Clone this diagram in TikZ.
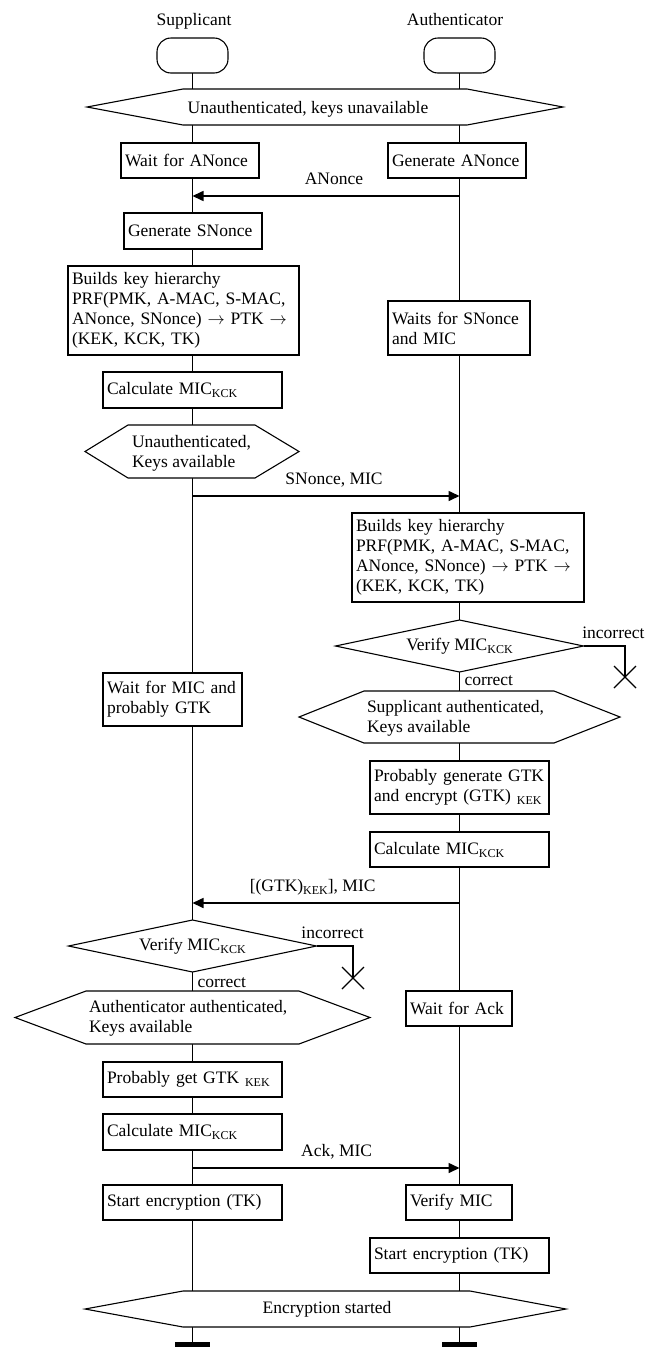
\documentclass[tikz,border=0pt]{standalone}
\usepackage{fontspec}
\setmainfont{Liberation Serif}
\usetikzlibrary{arrows.meta,shapes.geometric,shapes.misc}
\newcommand{\ksub}[1]{\raisebox{-3pt}{\fontsize{12}{13}\selectfont #1}}

\begin{document}
\begin{tikzpicture}[x=1pt,y=-1pt,
    every node/.style={font=\fontsize{17.5}{20}\selectfont, outer sep=0pt},
    line/.style={line width=1.1pt},
    msg/.style={line width=1.6pt, -{Triangle[length=11pt,width=10pt]}},
    box/.style={draw, line width=1.1pt, fill=white, anchor=north west, align=left, inner xsep=4pt, inner ysep=0pt},
    startbox/.style={draw, line width=1.1pt, rounded corners=14pt, minimum width=71, minimum height=35, inner sep=0pt},
    endbar/.style={fill=black, minimum width=35, minimum height=9, inner sep=0pt},
    hexa/.style={draw, line width=1.1pt, fill=white},
    decision/.style={diamond, draw, line width=1.1pt, fill=white, aspect=4.8, minimum width=248, minimum height=52, inner sep=0pt},
    halt/.style={cross out, draw, line width=1.1pt, minimum size=22, inner sep=0pt},
    lbl/.style={inner sep=1pt, text height=12pt, text depth=4pt},
    htxt/.style={anchor=west, align=left, inner sep=0pt}]

    \useasboundingbox (0,0) rectangle (648,1347);

	\node[lbl] (supName) at (194,21) {Supplicant};
	\node[lbl] (autName) at (455,21) {Authenticator};
	\node[startbox] (supStart) at (192.5,55.5) {};
	\node[startbox] (autStart) at (459.5,55.5) {};
	\node[endbar] (supEnd) at (192.5,1346) {};
	\node[endbar] (autEnd) at (459.5,1346) {};
	\draw[line] (supStart.south) -- (supEnd.north);
	\draw[line] (autStart.south) -- (autEnd.north);

	% states
	\foreach \xl/\xa/\xb/\xr/\yt/\yb in {87/183/467/563/89/125, 85/128/255/299/425/478,
	    299/364/554/620/691/743, 15/86/299/370/991/1044, 85/183/470/566/1291/1327}
	\draw[hexa] (\xl,{(\yt+\yb)/2}) -- (\xa,\yt) -- (\xb,\yt) -- (\xr,{(\yt+\yb)/2})
	    -- (\xb,\yb) -- (\xa,\yb) -- cycle;
	\node[lbl] (stNoKeys) at (308,109) {Unauthenticated, keys unavailable};
	\node[htxt] (stSupKeys) at (132,453.5) {Unauthenticated,\\Keys available};
	\node[htxt] (stSupAuth) at (367,718.5) {Supplicant authenticated,\\Keys available};
	\node[htxt] (stAutAuth) at (89,1018.5) {Authenticator authenticated,\\Keys available};
	\node[lbl] (stEnc) at (327,1309) {Encryption started};

	% supplicant
	\node[box, text width=130, minimum height=35] (supWait) at (121,143) {Wait for ANonce};
	\node[box, text width=130, minimum height=36] (supGen) at (124,213) {Generate SNonce};
	\node[box, text width=223, minimum height=89] (supKeys) at (68,266)
	    {Builds key hierarchy\\PRF(PMK, A-MAC, S-MAC,\\ANonce, SNonce) $\rightarrow$ PTK $\rightarrow$\\(KEK, KCK, TK)};
	\node[box, text width=171, minimum height=36] (supMic) at (103,372) {Calculate MIC\ksub{KCK}};
	\node[box, text width=131, minimum height=53] (supWaitMic) at (103,673) {Wait for MIC and\\probably GTK};
	\node[decision] (verS) at (192.5,946) {Verify MIC\ksub{KCK}};
	\node[halt] (haltS) at (353,978) {};
	\node[box, text width=171, minimum height=35] (supGtk) at (103,1062) {Probably get GTK \ksub{KEK}};
	\node[box, text width=171, minimum height=36] (supMic2) at (103,1114) {Calculate MIC\ksub{KCK}};
	\node[box, text width=171, minimum height=35] (supEnc) at (103,1185) {Start encryption (TK)};

	% authenticator
	\node[box, text width=130, minimum height=35] (autGen) at (388,143) {Generate ANonce};
	\node[box, text width=134, minimum height=54] (autWait) at (388,301) {Waits for SNonce\\and MIC};
	\node[box, text width=224, minimum height=89] (autKeys) at (352,513)
	    {Builds key hierarchy\\PRF(PMK, A-MAC, S-MAC,\\ANonce, SNonce) $\rightarrow$ PTK $\rightarrow$\\(KEK, KCK, TK)};
	\node[decision] (verA) at (459.5,646) {Verify MIC\ksub{KCK}};
	\node[halt] (haltA) at (625,677) {};
	\node[box, text width=171, minimum height=53] (autGtk) at (370,761) {Probably generate GTK\\and encrypt (GTK) \ksub{KEK}};
	\node[box, text width=171, minimum height=35] (autMic) at (370,832) {Calculate MIC\ksub{KCK}};
	\node[box, text width=98, minimum height=35] (autWaitAck) at (406,991) {Wait for Ack};
	\node[box, text width=98, minimum height=35] (autVer) at (406,1185) {Verify MIC};
	\node[box, text width=171, minimum height=35] (autEnc) at (370,1238) {Start encryption (TK)};

	\draw[line] (verA.east) -| node[lbl, pos=0.36, above=3pt] (incA) {incorrect} (haltA.center);
	\node[lbl, anchor=north west, xshift=4pt] (corA) at (verA.south) {correct};
	\draw[line] (verS.east) -| node[lbl, pos=0.22, above=3pt] (incS) {incorrect} (haltS.center);
	\node[lbl, anchor=north west, xshift=4pt, yshift=-2pt] (corS) at (verS.south) {correct};

	% messages
	\coordinate (msgA) at (0,196);
	\coordinate (msgB) at (0,496);
	\coordinate (msgC) at (0,903);
	\coordinate (msgD) at (0,1168);
	\draw[msg] (autStart |- msgA) -- node[lbl, pos=0.47, above=7pt] (lblA) {ANonce} (supStart |- msgA);
	\draw[msg] (supStart |- msgB) -- node[lbl, pos=0.53, above=7pt] (lblB) {SNonce, MIC} (autStart |- msgB);
	\draw[msg] (autStart |- msgC) -- node[lbl, pos=0.55, above=7pt] (lblC) {[(GTK)\ksub{KEK}], MIC} (supStart |- msgC);
	\draw[msg] (supStart |- msgD) -- node[lbl, pos=0.54, above=7pt] (lblD) {Ack, MIC} (autStart |- msgD);

\end{tikzpicture}
\end{document}
